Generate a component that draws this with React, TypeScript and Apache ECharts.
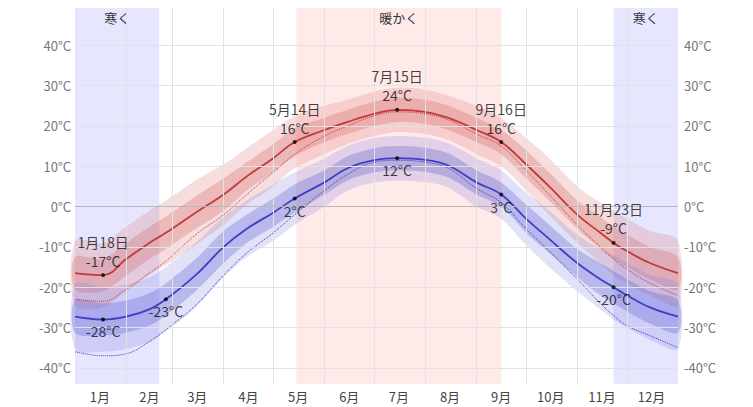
import * as echarts from "echarts";
import { useEffect, useRef } from "react";

const days = [0, 17, 31, 45, 55, 73, 90, 104, 120, 133, 151, 165, 181, 195, 212, 226, 243, 258, 273, 287, 304, 318, 326, 334, 348, 365];
const high = [-16.5, -17, -13, -9, -6.5, -1.5, 3, 7.5, 12, 16, 19, 21, 23, 24, 23.5, 22, 19, 16, 10.5, 5, -2, -6.5, -9, -11, -14, -16.5];
const low = [-27.3, -28, -27.3, -25.5, -23, -17, -10, -5.5, -1.5, 2, 6, 9.5, 11.5, 12, 11.6, 10.2, 6, 3, -3, -8, -14, -18, -20, -22, -25, -27.3];
const highFeel = [-23, -23.5, -20.5, -16.5, -13.5, -7, -2, 3, 8.5, 13, 17.5, 20, 22.5, 23.5, 23, 21.5, 18, 15, 9, 3, -4.5, -10, -13, -15.5, -19, -22];
const lowFeel = [-36, -37, -36.5, -33.5, -30.5, -24.5, -17, -11.5, -6.5, -2, 4, 8, 11, 11.5, 11, 9.5, 4.5, 1, -5.5, -11, -18, -24, -27, -29.5, -32, -35];
const innerSpread = [4, 4, 4, 4, 4, 4, 4, 3.5, 3.5, 3.5, 3, 3, 3, 3, 3, 3, 3, 3, 3.5, 3.5, 3.5, 4, 4, 4, 4, 4];
const outerSpread = [8, 8, 8, 8, 8, 8, 7.5, 7, 7, 6.5, 6, 5.5, 5.5, 5.5, 5.5, 5.5, 6, 6, 6.5, 7, 7, 7.5, 8, 8, 8, 8];
const monthStarts = [31, 59, 90, 120, 151, 181, 212, 243, 273, 304, 334];
const monthMids = [15, 45, 74, 105, 135, 166, 196, 227, 258, 288, 319, 349];
const yTicks = [-40, -30, -20, -10, 0, 10, 20, 30, 40];
const highNotes = [
  { day: 17, value: -17, date: "1月18日" },
  { day: 133, value: 16, date: "5月14日" },
  { day: 195, value: 24, date: "7月15日" },
  { day: 258, value: 16, date: "9月16日" },
  { day: 326, value: -9, date: "11月23日" },
];
const lowNotes = [
  { day: 17, value: -28 },
  { day: 55, value: -23 },
  { day: 133, value: 2 },
  { day: 195, value: 12 },
  { day: 258, value: 3 },
  { day: 326, value: -20 },
];

const FONT = "'Noto Sans CJK JP', 'Noto Sans', sans-serif";

const pairs = (vals: number[]) => days.map((d, i) => [d, vals[i]]);

// filled band between center - spread and center + spread
const band = (center: number[], spread: number[], color: string) => ({
  type: "custom",
  silent: true,
  z: 2,
  data: [0],
  renderItem: (_params: any, api: any) => {
    const upper = days.map((d, i) => api.coord([d, center[i] + spread[i]]));
    const lower = days.map((d, i) => api.coord([d, center[i] - spread[i]])).reverse();
    return {
      type: "polygon",
      shape: { points: [...upper, ...lower], smooth: 0.3 },
      style: { fill: color },
    };
  },
});

const App = () => {
  const chartRef = useRef(null);

  useEffect(() => {
    if (chartRef.current) {
      const myChart = echarts.init(chartRef.current, null, { renderer: "svg" });

      const yAxisBase = {
        type: "value",
        min: -44,
        max: 50,
        splitLine: { show: false },
        axisLine: { show: false },
        axisTick: { show: false },
      };

      const option = {
        animation: false,
        textStyle: { fontFamily: FONT },
        grid: { left: 75, right: 75, top: 5, bottom: 23 },
        xAxis: {
          type: "value",
          min: 0,
          max: 365,
          splitLine: { show: false },
          axisLine: { show: false },
          axisTick: { show: false },
          axisLabel: {
            customValues: monthMids,
            formatter: (v: number) => `${monthMids.indexOf(v) + 1}月`,
            color: "#444",
            fontSize: 13,
            margin: 6,
          },
        },
        yAxis: [
          { ...yAxisBase, position: "left", axisLabel: { customValues: yTicks, formatter: "{value}°C", color: "#777", fontSize: 13, margin: 4 } },
          { ...yAxisBase, position: "right", axisLabel: { customValues: yTicks, formatter: "{value}°C", color: "#777", fontSize: 13, margin: 6 } },
        ],
        series: [
          {
            type: "line",
            data: [],
            markArea: {
              silent: true,
              label: { position: "insideTop", color: "#333", fontSize: 13, distance: 6, fontFamily: FONT },
              data: [
                [{ xAxis: 0, name: "寒く", itemStyle: { color: "rgba(230,230,255,1)" } }, { xAxis: 51 }],
                [{ xAxis: 134, name: "暖かく", itemStyle: { color: "rgba(255,234,234,1)" } }, { xAxis: 258 }],
                [{ xAxis: 326, name: "寒く", itemStyle: { color: "rgba(230,230,255,1)" } }, { xAxis: 365 }],
              ],
            },
            z: 0,
          },
          {
            type: "line",
            data: [],
            markLine: {
              silent: true,
              symbol: "none",
              label: { show: false },
              lineStyle: { color: "#e2e2e2", width: 1, type: "solid" },
              data: [
                ...monthStarts.map((m) => ({ xAxis: m })),
                ...yTicks.filter((t) => t !== 0).map((t) => ({ yAxis: t })),
                { yAxis: 0, lineStyle: { color: "#b8b8b8" } },
              ],
            },
            z: 1,
          },
          band(high, outerSpread, "rgba(225,120,120,0.25)"),
          band(high, innerSpread, "rgba(205,80,80,0.25)"),
          band(low, outerSpread, "rgba(120,120,225,0.22)"),
          band(low, innerSpread, "rgba(80,80,205,0.28)"),
          {
            type: "line",
            smooth: 0.4,
            symbol: "none",
            data: pairs(highFeel),
            lineStyle: { color: "#c03a3a", width: 1, type: "dotted" },
            z: 3,
          },
          {
            type: "line",
            smooth: 0.4,
            symbol: "none",
            data: pairs(lowFeel),
            lineStyle: { color: "#3a3ac0", width: 1, type: "dotted" },
            z: 3,
          },
          {
            type: "line",
            smooth: 0.4,
            symbol: "none",
            data: pairs(high),
            lineStyle: { color: "#c23a3a", width: 1.8 },
            z: 4,
          },
          {
            type: "line",
            smooth: 0.4,
            symbol: "none",
            data: pairs(low),
            lineStyle: { color: "#3f3fc4", width: 1.8 },
            z: 4,
          },
          {
            type: "scatter",
            symbolSize: 4,
            itemStyle: { color: "#000" },
            data: highNotes.map((n) => ({ value: [n.day, n.value], date: n.date })),
            label: {
              show: true,
              position: "top",
              distance: 3,
              color: "#111",
              fontSize: 14,
              lineHeight: 19,
              fontFamily: FONT,
              formatter: (p: any) => `${p.data.date}\n${p.data.value[1]}°C`,
            },
            z: 5,
          },
          {
            type: "scatter",
            symbolSize: 4,
            itemStyle: { color: "#000" },
            data: lowNotes.map((n) => [n.day, n.value]),
            label: {
              show: true,
              position: "bottom",
              distance: 3,
              color: "#111",
              fontSize: 14,
              fontFamily: FONT,
              formatter: (p: any) => `${p.value[1]}°C`,
            },
            z: 5,
          },
        ],
      };

      myChart.setOption(option);

      return () => {
        myChart.dispose();
      };
    }
  }, []);

  return <div ref={chartRef} style={{ width: 753, height: 407, marginLeft: -8, marginTop: -8 }} />;
};

export default App;
